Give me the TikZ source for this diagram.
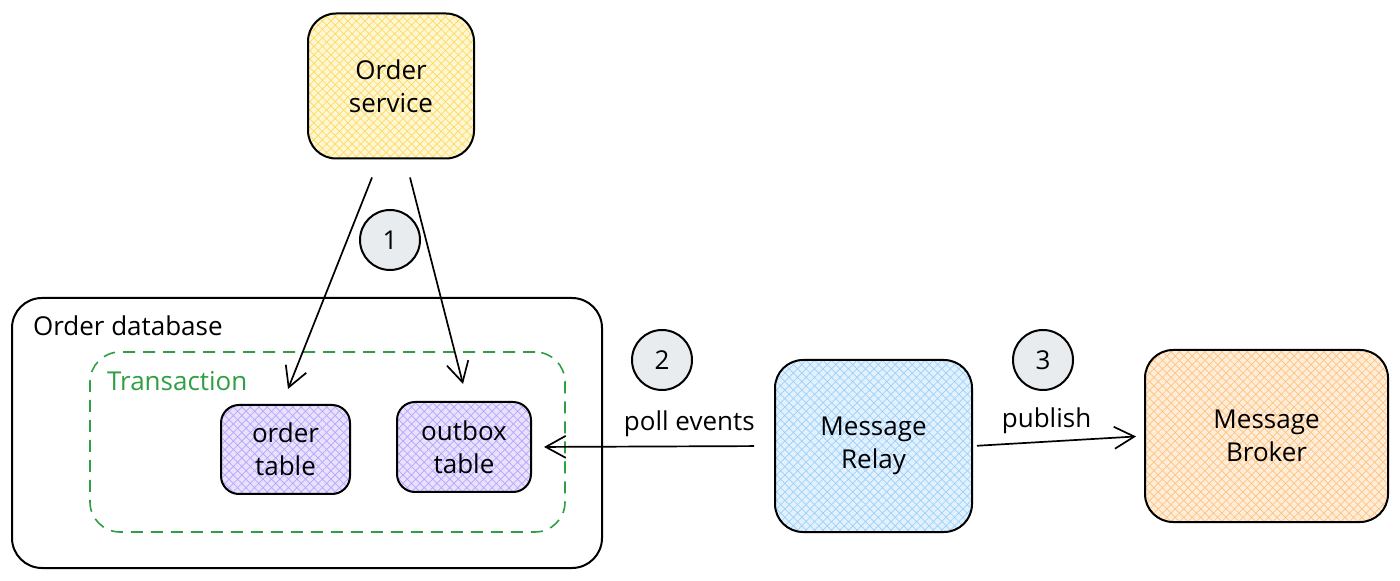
\documentclass[tikz,border=0pt]{standalone}
\usepackage{fontspec}
\setmainfont{Open Sans}
\usetikzlibrary{arrows.meta,calc,patterns.meta}
\definecolor{ylfill}{HTML}{FEF7D6}
\definecolor{ylline}{HTML}{FFD95A}
\definecolor{pufill}{HTML}{E8E2FC}
\definecolor{puline}{HTML}{B8A2FC}
\definecolor{blfill}{HTML}{E2F1FD}
\definecolor{blline}{HTML}{9CD0FA}
\definecolor{orfill}{HTML}{FEEDD8}
\definecolor{orline}{HTML}{FFC27E}
\definecolor{grfill}{HTML}{E9ECEF}
\definecolor{txgreen}{HTML}{2F9E44}
\tikzset{
  hatch/.style 2 args={preaction={fill=#1},
    preaction={pattern={Lines[angle=45,distance=3pt,line width=0.35pt]},pattern color=#2},
    preaction={pattern={Lines[angle=-45,distance=3pt,line width=0.35pt]},pattern color=#2}},
  sbox/.style={draw=black,line width=1pt,rounded corners=14pt,align=center,
    font=\fontsize{13}{16.5}\selectfont,text=black},
  numc/.style={circle,draw=black,line width=1pt,fill=grfill,minimum size=30pt,inner sep=0pt,
    font=\fontsize{13}{14}\selectfont},
  arr/.style={line width=0.85pt,-{Straight Barb[length=10pt,width=11pt,line width=0.85pt]}},
  lbl/.style={font=\fontsize{13}{15}\selectfont,text=black},
}
\begin{document}
\begin{tikzpicture}[x=0.5pt,y=-0.5pt]
\useasboundingbox (0,0) rectangle (1400,581);
% containers
\node[draw=black,line width=1pt,rounded corners=15pt,minimum width=295pt,minimum height=135pt] (db) at (307,433) {};
\node[lbl,anchor=west] (dbl) at (26,326) {Order database};
\node[draw=txgreen,line width=0.8pt,dash pattern=on 6pt off 4pt,rounded corners=15pt,minimum width=237.5pt,minimum height=90pt] (tx) at (327.5,442) {};
\node[lbl,anchor=west,text=txgreen] (txl) at (100,381) {Transaction};
% boxes
\node[sbox,hatch={ylfill}{ylline},minimum width=83pt,minimum height=72.5pt] (os) at (391,86) {Order\\service};
\node[sbox,hatch={pufill}{puline},rounded corners=9pt,minimum width=64.5pt,minimum height=44.5pt] (ot) at (285.5,449.5) {order\\table};
\node[sbox,hatch={pufill}{puline},rounded corners=9pt,minimum width=67pt,minimum height=45pt] (ob) at (464,447) {outbox\\table};
\node[sbox,hatch={blfill}{blline},minimum width=98.5pt,minimum height=86pt] (mr) at (873.5,446) {Message\\Relay};
\node[sbox,hatch={orfill}{orline},minimum width=121.5pt,minimum height=86pt] (mb) at (1266.5,436) {Message\\Broker};
% numbers
\node[numc] (c1) at (390,240) {1};
\node[numc] (c2) at (662,360) {2};
\node[numc] (c3) at (1043,360) {3};
% arrows
\coordinate (s1) at ($(os.south)+(-19,18)$);
\coordinate (s2) at ($(os.south)+(19,18)$);
\coordinate (e1) at ($(ot.north)+(2.5,-15)$);
\coordinate (e2) at ($(ob.north)+(-1,-17)$);
\draw[arr] (s1) -- (e1);
\draw[arr] (s2) -- (e2);
\draw[arr,shorten <=10pt,shorten >=6pt] (mr.west) -- node[lbl,pos=0.35,above=1pt] (pe) {poll events} (ob.east);
\draw[arr,shorten <=2pt,shorten >=4pt] (mr.east) -- node[lbl,pos=0.43,above=0pt] (pb) {publish} (mb.west);
\end{tikzpicture}
\end{document}
